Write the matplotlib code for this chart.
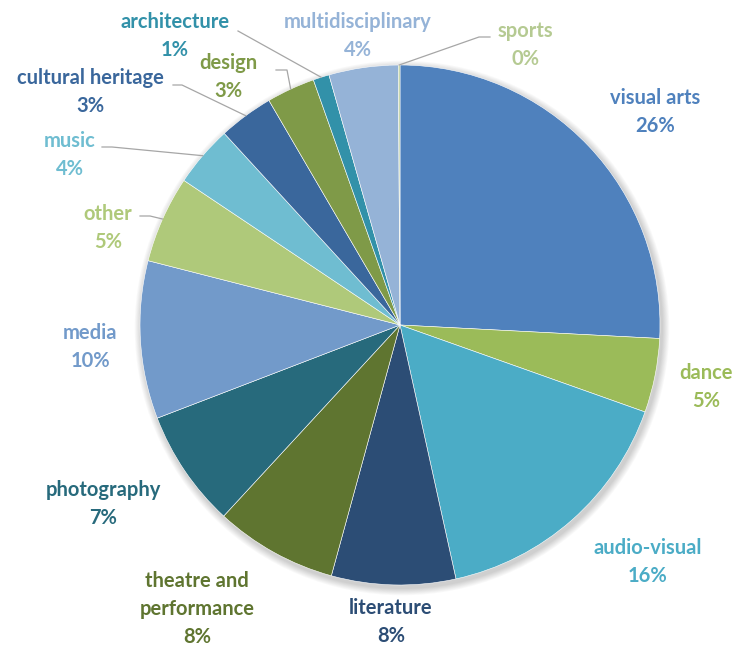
import numpy as np
import matplotlib.pyplot as plt
from matplotlib.patches import Circle

categories = ['visual arts', 'dance', 'audio-visual', 'literature', 'theatre and\nperformance',
              'photography', 'media', 'other', 'music', 'cultural heritage', 'design',
              'architecture', 'multidisciplinary', 'sports']
shares = [25.8, 4.6, 16.1, 7.7, 7.6, 7.3, 9.8, 5.4, 3.8, 3.4, 3.0, 1.0, 4.3, 0.1]
colors = ['#4F81BD', '#9BBB59', '#4BACC6', '#2C4D75', '#5F7530', '#276A7C', '#729ACA',
          '#AFC97A', '#6FBDD1', '#3A679C', '#7F9A48', '#3291A9', '#95B3D7', '#B5CA92']

W, H = 734, 648
# label anchor points in pixel coords (top-left origin) and horizontal alignment
label_pos = [(655, 112), (733, 387), (648, 562), (391, 622), (197, 609), (103, 504),
             (90, 347), (108, 228), (70, 155), (90, 92), (228, 77), (175, 36),
             (358, 36), (525, 45)]
label_ha = ['center', 'right'] + ['center'] * 12
# leader lines: index -> text-side points (pixels)
leaders = {
    7: [(140, 216), (150, 216)],
    8: [(102, 147), (112, 147)],
    9: [(173, 85), (182, 85)],
    10: [(276, 70), (287, 70)],
    11: [(238, 31)],
    13: [(490, 37), (479, 37)],
}

cx, cy, r = 400, 325, 260

fig = plt.figure(figsize=(W / 100, H / 100), dpi=100)
ax = fig.add_axes([0, 0, 1, 1])

# soft shadow under the pie
for k in range(8):
    ax.add_patch(Circle((cx + 2, H - cy - 3), r + 1 + k * 0.9, color='black',
                        alpha=0.025, lw=0, zorder=0))

wedges, _ = ax.pie(shares, colors=colors, startangle=90, counterclock=False,
                   center=(cx, H - cy), radius=r, frame=True,
                   wedgeprops=dict(edgecolor='white', linewidth=0.4))
ax.set_xlim(0, W)
ax.set_ylim(0, H)
ax.set_aspect('equal')
ax.axis('off')

total = sum(shares)
for i, (name, val) in enumerate(zip(categories, shares)):
    px, py = label_pos[i]
    pct = round(val / total * 100)
    ax.text(px, H - py, f'{name}\n{pct}%', ha=label_ha[i], va='center', color=colors[i],
            fontsize=14.5, fontweight='bold', family='Lato', linespacing=1.5,
            multialignment='center')

for i, pts in leaders.items():
    w = wedges[i]
    mid = np.deg2rad((w.theta1 + w.theta2) / 2)
    ex, ey = cx + r * np.cos(mid), (H - cy) + r * np.sin(mid)
    xs = [p[0] for p in pts] + [ex]
    ys = [H - p[1] for p in pts] + [ey]
    ax.plot(xs, ys, color='#A6A6A6', lw=0.9, zorder=5)

fig.savefig('out.png', dpi=100)
